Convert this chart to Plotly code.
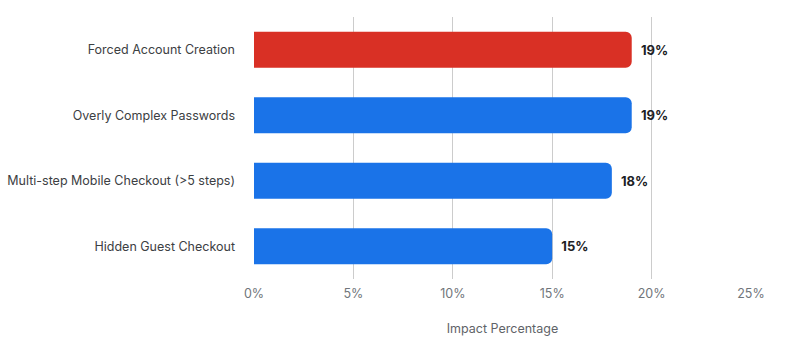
import plotly.graph_objects as go

categories = ["Forced Account Creation", "Overly Complex Passwords",
              "Multi-step Mobile Checkout (>5 steps)", "Hidden Guest Checkout"]
values = [19, 19, 18, 15]
colors = ["#D93025", "#1A73E8", "#1A73E8", "#1A73E8"]
labels = [f"  {v}%" for v in values]

fig = go.Figure(go.Bar(
    x=values, y=categories, orientation="h",
    marker=dict(color=colors, cornerradius=6, line=dict(width=0)),
    text=labels, textposition="outside", cliponaxis=False,
    textfont=dict(family="Inter", size=13, color="#202124", weight="bold"),
    width=0.55,
))
fig.update_layout(
    width=800, height=340,
    margin=dict(l=254, r=49, t=17, b=61),
    paper_bgcolor="white", plot_bgcolor="white",
    font=dict(family="Inter", size=12.5, color="#3c4043"),
    showlegend=False,
)
fig.update_xaxes(
    range=[0, 25], tickvals=[0, 5, 10, 15, 20, 25],
    ticktext=["0%", "5%", "10%", "15%", "20%", "25%"],
    showgrid=True, gridcolor="#cccccc", gridwidth=1,
    zeroline=False, showline=False, automargin=False,
    ticklabelstandoff=5,
    tickfont=dict(family="Inter", size=12.5, color="#70757a"),
    title=dict(text="Impact Percentage", font=dict(family="Inter", size=12.5, color="#5f6368"), standoff=24),
)
fig.update_yaxes(
    autorange="reversed", showgrid=False, zeroline=False, automargin=False,
    ticklabelstandoff=18,
    tickfont=dict(family="Inter", size=12.5, color="#3c4043"),
)
fig.write_html("out.html")
